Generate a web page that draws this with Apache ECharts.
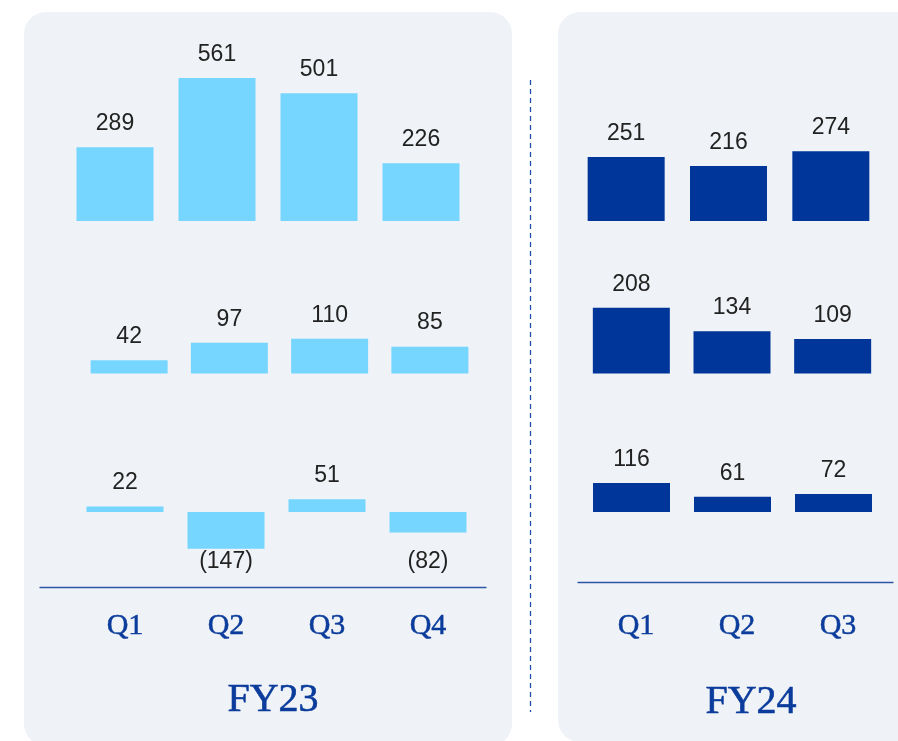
<!DOCTYPE html>
<html>
<head>
<meta charset="utf-8">
<script src="https://cdn.jsdelivr.net/npm/echarts@6/dist/echarts.min.js"></script>
<style>
  html, body { margin: 0; padding: 0; background: #fff; }
  #main { width: 898px; height: 741px; }
</style>
</head>
<body>
<div id="main"></div>
<script>
var myChart = echarts.init(document.getElementById('main'));

// quarters
var fy23Quarters = ['Q1', 'Q2', 'Q3', 'Q4'];
var fy24Quarters = ['Q1', 'Q2', 'Q3'];

// three rows of values per year (top, middle, bottom)
var fy23Row1 = [289, 561, 501, 226];
var fy23Row2 = [42, 97, 110, 85];
var fy23Row3 = [22, -147, 51, -82];

var fy24Row1 = [251, 216, 274];
var fy24Row2 = [208, 134, 109];
var fy24Row3 = [116, 61, 72];

var LIGHT = '#76D6FF';
var DARK = '#00369A';
var TEXT_BLUE = '#0B3C9C';
var ROW3_PX = 0.25; // px per unit in bottom row, same as grid 2 height / range

function fmt(v) {
    return v < 0 ? '(' + (-v) + ')' : String(v);
}

// negative bars get the label under them, all lined up with the deepest bar
function toData(arr) {
    var lowest = Math.min.apply(null, arr);
    return arr.map(function (v) {
        if (v < 0) {
            return { value: v, label: { position: 'bottom', distance: 1 + (v - lowest) * ROW3_PX } };
        }
        return v;
    });
}

var grids = [
    { left: 64, width: 408, top: 42.5, height: 178.5 },   // 0 FY23 row1
    { left: 79, width: 401, top: 278.7, height: 94.8 },   // 1 FY23 row2
    { left: 74.5, width: 404, top: 462, height: 125 },    // 2 FY23 row3
    { left: 575, width: 307, top: 42.5, height: 178.5 },  // 3 FY24 row1
    { left: 581, width: 302, top: 278.7, height: 94.8 },  // 4 FY24 row2
    { left: 581, width: 303, top: 462, height: 120 },     // 5 FY24 row3
    { left: 40, width: 446, top: 586, height: 1 },        // 6 FY23 axis line
    { left: 578, width: 315, top: 581, height: 1 }        // 7 FY24 axis line
];

var yRanges = [[0, 700], [0, 300], [-300, 200], [0, 700], [0, 300], [-280, 200], [0, 1], [0, 1]];

var xAxes = [], yAxes = [];
grids.forEach(function (g, i) {
    var cats = (i < 3 || i == 6) ? fy23Quarters : fy24Quarters;
    var ax = {
        type: 'category',
        gridIndex: i,
        data: cats,
        show: false
    };
    if (i == 2 || i == 5) {
        ax.show = true;
        ax.axisLine = { show: false, onZero: false };
        ax.axisTick = { show: false };
        ax.axisLabel = {
            margin: i == 2 ? 24 : 29,
            padding: i == 2 ? [0, 0, 0, 0] : [0, 0, 0, 9],
            color: TEXT_BLUE,
            fontFamily: 'Liberation Serif',
            fontSize: 30,
            textBorderColor: TEXT_BLUE,
            textBorderWidth: 0.5
        };
    }
    if (i == 6 || i == 7) {
        ax.show = true;
        ax.axisLine = { show: true, lineStyle: { color: '#2E56A6', width: 1.3 } };
        ax.axisTick = { show: false };
        ax.axisLabel = { show: false };
    }
    xAxes.push(ax);
    yAxes.push({
        type: 'value',
        gridIndex: i,
        min: yRanges[i][0],
        max: yRanges[i][1],
        show: false
    });
});

var rows = [fy23Row1, fy23Row2, fy23Row3, fy24Row1, fy24Row2, fy24Row3];
var series = rows.map(function (arr, i) {
    return {
        type: 'bar',
        xAxisIndex: i,
        yAxisIndex: i,
        data: toData(arr),
        barWidth: 77,
        itemStyle: { color: i < 3 ? LIGHT : DARK },
        label: {
            show: true,
            position: 'top',
            distance: 12,
            color: '#222',
            fontFamily: 'Liberation Sans',
            fontSize: 23,
            formatter: function (p) { return fmt(p.value); }
        },
        animation: false
    };
});

var titleStyle = {
    color: TEXT_BLUE, fontFamily: 'Liberation Serif', fontSize: 40, fontWeight: 'normal',
    textBorderColor: TEXT_BLUE, textBorderWidth: 0.6
};

option = {
    backgroundColor: '#fff',
    animation: false,
    title: [
        { text: 'FY23', left: 268, top: 675, textAlign: 'center', textStyle: titleStyle },
        { text: 'FY24', left: 746, top: 677, textAlign: 'center', textStyle: titleStyle }
    ],
    graphic: [
        {
            type: 'rect', z: -10, silent: true,
            shape: { x: 24, y: 12, width: 488, height: 734, r: 22 },
            style: { fill: '#EFF2F6' }
        },
        {
            type: 'rect', z: -10, silent: true,
            shape: { x: 558, y: 12, width: 380, height: 730, r: 22 },
            style: { fill: '#EFF2F6' }
        },
        {
            type: 'line', z: -5, silent: true,
            shape: { x1: 530.5, y1: 80, x2: 530.5, y2: 712 },
            style: { stroke: '#1F4FA8', lineWidth: 1.3, lineDash: [5, 4] }
        }
    ],
    grid: grids,
    xAxis: xAxes,
    yAxis: yAxes,
    series: series
};

myChart.setOption(option);
</script>
</body>
</html>
